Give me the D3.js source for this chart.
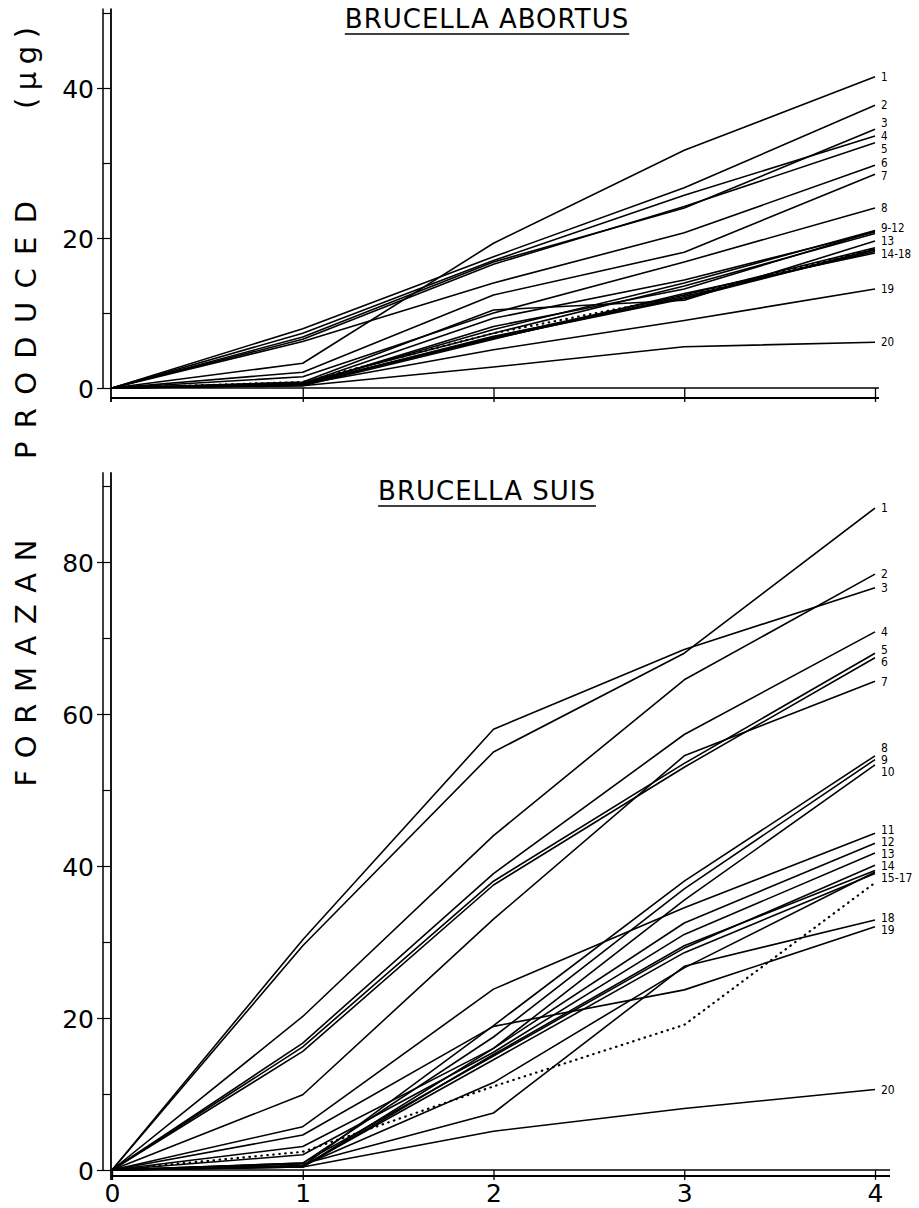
<!DOCTYPE html>
<html>
<head>
<meta charset="utf-8">
<script src="https://cdn.jsdelivr.net/npm/d3@7"></script>
<style>
  body { margin: 0; background: #fff; }
  svg { display: block; }
  text { font-family: "DejaVu Sans", sans-serif; fill: #000; }
</style>
</head>
<body>
<div id="container"></div>
<script>
/* DATA */
var hours = [0, 1, 2, 3, 4];

// Brucella abortus, one row per curve (label "" = member of the group above)
var abortusLabels = ["1", "2", "3", "4", "5", "6", "7", "8",
  "9-12", "", "", "", "13", "14-18", "", "", "", "", "19", "20"];
var abortusValues = [
  [0, 3.3, 19.3, 31.7, 41.5],
  [0, 7.9, 17.5, 26.7, 37.7],
  [0, 6.8, 16.8, 24.0, 34.5],
  [0, 7.3, 17.0, 25.7, 33.6],
  [0, 6.5, 16.5, 24.2, 32.7],
  [0, 6.2, 14.0, 20.7, 29.7],
  [0, 2.1, 12.4, 18.1, 28.5],
  [0, 1.5, 10.0, 16.8, 24.0],
  [0, 0.6, 9.3, 14.4, 20.8],
  [0, 0.5, 7.8, 14.0, 21.0],
  [0, 0.7, 7.3, 13.6, 20.6],
  [0, 0.4, 8.2, 13.2, 20.9],
  [0, 0.8, 10.4, 11.7, 19.6],
  [0, 0.5, 6.9, 12.0, 18.5],
  [0, 0.4, 6.8, 12.4, 18.7],
  [0, 0.6, 6.6, 12.2, 18.2],
  [0, 0.3, 6.5, 12.6, 18.0],
  [0, 0.5, 6.7, 11.9, 18.4],
  [0, 0.5, 5.1, 9.0, 13.2],
  [0, 0.3, 2.8, 5.5, 6.1]
];
var abortusDotted = [0, 0.8, 7.3, 12.3, 18.6];
var abortusTicks = [0, 20, 40];
var abortusMinor = [10, 30, 50];

// Brucella suis
var suisLabels = ["1", "2", "3", "4", "5", "6", "7", "8", "9", "10",
  "11", "12", "13", "14", "15-17", "", "", "18", "19", "20"];
var suisValues = [
  [0, 29.5, 55.0, 68.0, 87.1],
  [0, 20.2, 44.0, 64.5, 78.4],
  [0, 30.3, 58.0, 68.5, 76.6],
  [0, 16.7, 39.0, 57.3, 70.8],
  [0, 16.2, 38.0, 53.5, 68.0],
  [0, 15.6, 37.5, 53.0, 67.4],
  [0, 9.9, 33.0, 54.5, 64.3],
  [0, 0.5, 19.0, 38.0, 54.5],
  [0, 0.9, 17.5, 37.0, 54.0],
  [0, 0.4, 16.0, 35.5, 53.3],
  [0, 5.7, 23.8, 34.5, 44.3],
  [0, 3.1, 16.0, 32.5, 43.0],
  [0, 2.0, 15.5, 31.0, 41.7],
  [0, 0.9, 15.0, 29.2, 40.1],
  [0, 0.5, 14.5, 28.6, 39.0],
  [0, 0.4, 15.2, 29.5, 39.4],
  [0, 0.6, 11.5, 26.6, 39.2],
  [0, 0.8, 7.5, 26.8, 32.9],
  [0, 4.6, 18.9, 23.7, 32.0],
  [0, 0.4, 5.1, 8.1, 10.6]
];
var suisDotted = [0, 2.4, 11.0, 19.1, 37.8];
var suisTicks = [0, 20, 40, 60, 80];
var suisMinor = [10, 30, 50, 70, 90];

/* LAYOUT */
var W = 919, H = 1208;
var svg = d3.select("#container").append("svg")
  .attr("width", W).attr("height", H);

var x = d3.scaleLinear().domain([0, 4]).range([112, 875]);

var line = d3.line()
  .x(function(d, i) { return x(hours[i]); })
  .y(function(d) { return d; });

function drawPanel(p) {
  var y = d3.scaleLinear().domain([0, p.tickMax]).range([p.y0, p.yTick]);
  var g = svg.append("g");
  var inner = 111, outer = 103;
  var base = y(0);

  // y axis: double line
  g.append("line").attr("x1", outer).attr("x2", outer)
    .attr("y1", y(p.axisTop)).attr("y2", base)
    .attr("stroke", "#000").attr("stroke-width", 1.5);
  g.append("line").attr("x1", inner).attr("x2", inner)
    .attr("y1", y(p.axisTop)).attr("y2", base + p.gap + 4)
    .attr("stroke", "#000").attr("stroke-width", 1.8);

  // minor ticks between the two lines
  g.append("g").attr("transform", "translate(" + inner + ",0)")
    .call(d3.axisLeft(y).tickValues(p.minor).tickSize(inner - outer).tickFormat(""))
    .call(function(a) { a.select(".domain").remove(); })
    .selectAll("line").attr("stroke-width", 1.2);

  // major ticks + labels
  var ya = g.append("g").attr("transform", "translate(" + inner + ",0)")
    .call(d3.axisLeft(y).tickValues(p.ticks).tickSize(14).tickPadding(3))
    .call(function(a) { a.select(".domain").remove(); });
  ya.selectAll("line").attr("stroke-width", 1.2);
  ya.selectAll("text").style("font-family", "'DejaVu Sans', sans-serif")
    .style("font-size", "25px").attr("dy", "0.36em");

  // x axis: double line with ticks
  g.append("line").attr("x1", inner).attr("x2", p.xEnd)
    .attr("y1", base).attr("y2", base)
    .attr("stroke", "#000").attr("stroke-width", 1.5);
  g.append("line").attr("x1", inner).attr("x2", p.xEnd)
    .attr("y1", base + p.gap).attr("y2", base + p.gap)
    .attr("stroke", "#000").attr("stroke-width", 1.8);
  var xa = g.append("g").attr("transform", "translate(0," + base + ")")
    .call(d3.axisBottom(x).tickValues(p.xLabels ? hours : hours.slice(1))
      .tickSize(p.gap + 4).tickPadding(4)
      .tickFormat(p.xLabels ? d3.format("d") : ""))
    .call(function(a) { a.select(".domain").remove(); });
  xa.selectAll("line").attr("stroke-width", 1.3);
  xa.selectAll("text").style("font-family", "'DejaVu Sans', sans-serif")
    .style("font-size", "25px");

  // title
  var t = g.append("text").attr("x", 487).attr("y", p.titleY)
    .attr("text-anchor", "middle")
    .style("font-size", "26px").style("letter-spacing", "1px")
    .text(p.title);
  var tw = t.node().getComputedTextLength();
  g.append("line").attr("x1", 487 - tw / 2).attr("x2", 487 + tw / 2)
    .attr("y1", p.titleY + 6).attr("y2", p.titleY + 6)
    .attr("stroke", "#000").attr("stroke-width", 1.6);

  // curves
  g.selectAll("path.curve").data(p.values).enter().append("path")
    .attr("class", "curve")
    .attr("d", function(d) { return line(d.map(y)); })
    .attr("fill", "none").attr("stroke", "#000").attr("stroke-width", 1.6)
    .attr("stroke-linejoin", "round");
  g.append("path")
    .attr("d", line(p.dotted.map(y)))
    .attr("fill", "none").attr("stroke", "#000").attr("stroke-width", 2.2)
    .attr("stroke-linecap", "round")
    .attr("stroke-dasharray", "0.5,5.5");

  // end labels, nudged apart
  var labs = [];
  p.labels.forEach(function(l, i) {
    if (l) labs.push({ text: l, y: y(p.values[i][4]) });
  });
  labs.sort(function(a, b) { return a.y - b.y; });
  for (var k = 0; k < 100; k++) {
    for (var j = 1; j < labs.length; j++) {
      var d = labs[j].y - labs[j - 1].y;
      if (d < p.labelGap) {
        var s = (p.labelGap - d) / 2;
        labs[j - 1].y -= s; labs[j].y += s;
      }
    }
  }
  g.selectAll("text.lab").data(labs).enter().append("text")
    .attr("class", "lab")
    .attr("x", 881).attr("y", function(d) { return d.y; })
    .attr("dy", "0.36em")
    .style("font-family", "'DejaVu Sans Condensed', 'Liberation Sans Narrow', sans-serif")
    .style("font-size", p.labelSize + "px")
    .text(function(d) { return d.text; });
}

drawPanel({
  title: "BRUCELLA ABORTUS", titleY: 28,
  values: abortusValues, labels: abortusLabels, dotted: abortusDotted,
  ticks: abortusTicks, minor: abortusMinor,
  tickMax: 40, y0: 388, yTick: 88, axisTop: 50.6,
  gap: 10, xEnd: 879, xLabels: false, labelGap: 13, labelSize: 11.5
});

drawPanel({
  title: "BRUCELLA SUIS", titleY: 500,
  values: suisValues, labels: suisLabels, dotted: suisDotted,
  ticks: suisTicks, minor: suisMinor,
  tickMax: 80, y0: 1170, yTick: 562, axisTop: 91.8,
  gap: 6, xEnd: 890, xLabels: true, labelGap: 12, labelSize: 12
});

// rotated y label
var ylab = [
  { text: "FORMAZAN", cy: 663, len: 247 },
  { text: "PRODUCED", cy: 330, len: 258 },
  { text: "(\u00b5g)", cy: 68, len: 82 }
];
svg.selectAll("text.ylab").data(ylab).enter().append("text")
  .attr("class", "ylab")
  .attr("transform", function(d) { return "translate(26," + d.cy + ") rotate(-90)"; })
  .attr("text-anchor", "middle")
  .attr("dy", "0.36em")
  .attr("textLength", function(d) { return d.len; })
  .attr("lengthAdjust", "spacing")
  .style("font-size", "29px")
  .text(function(d) { return d.text; });
</script>
</body>
</html>
